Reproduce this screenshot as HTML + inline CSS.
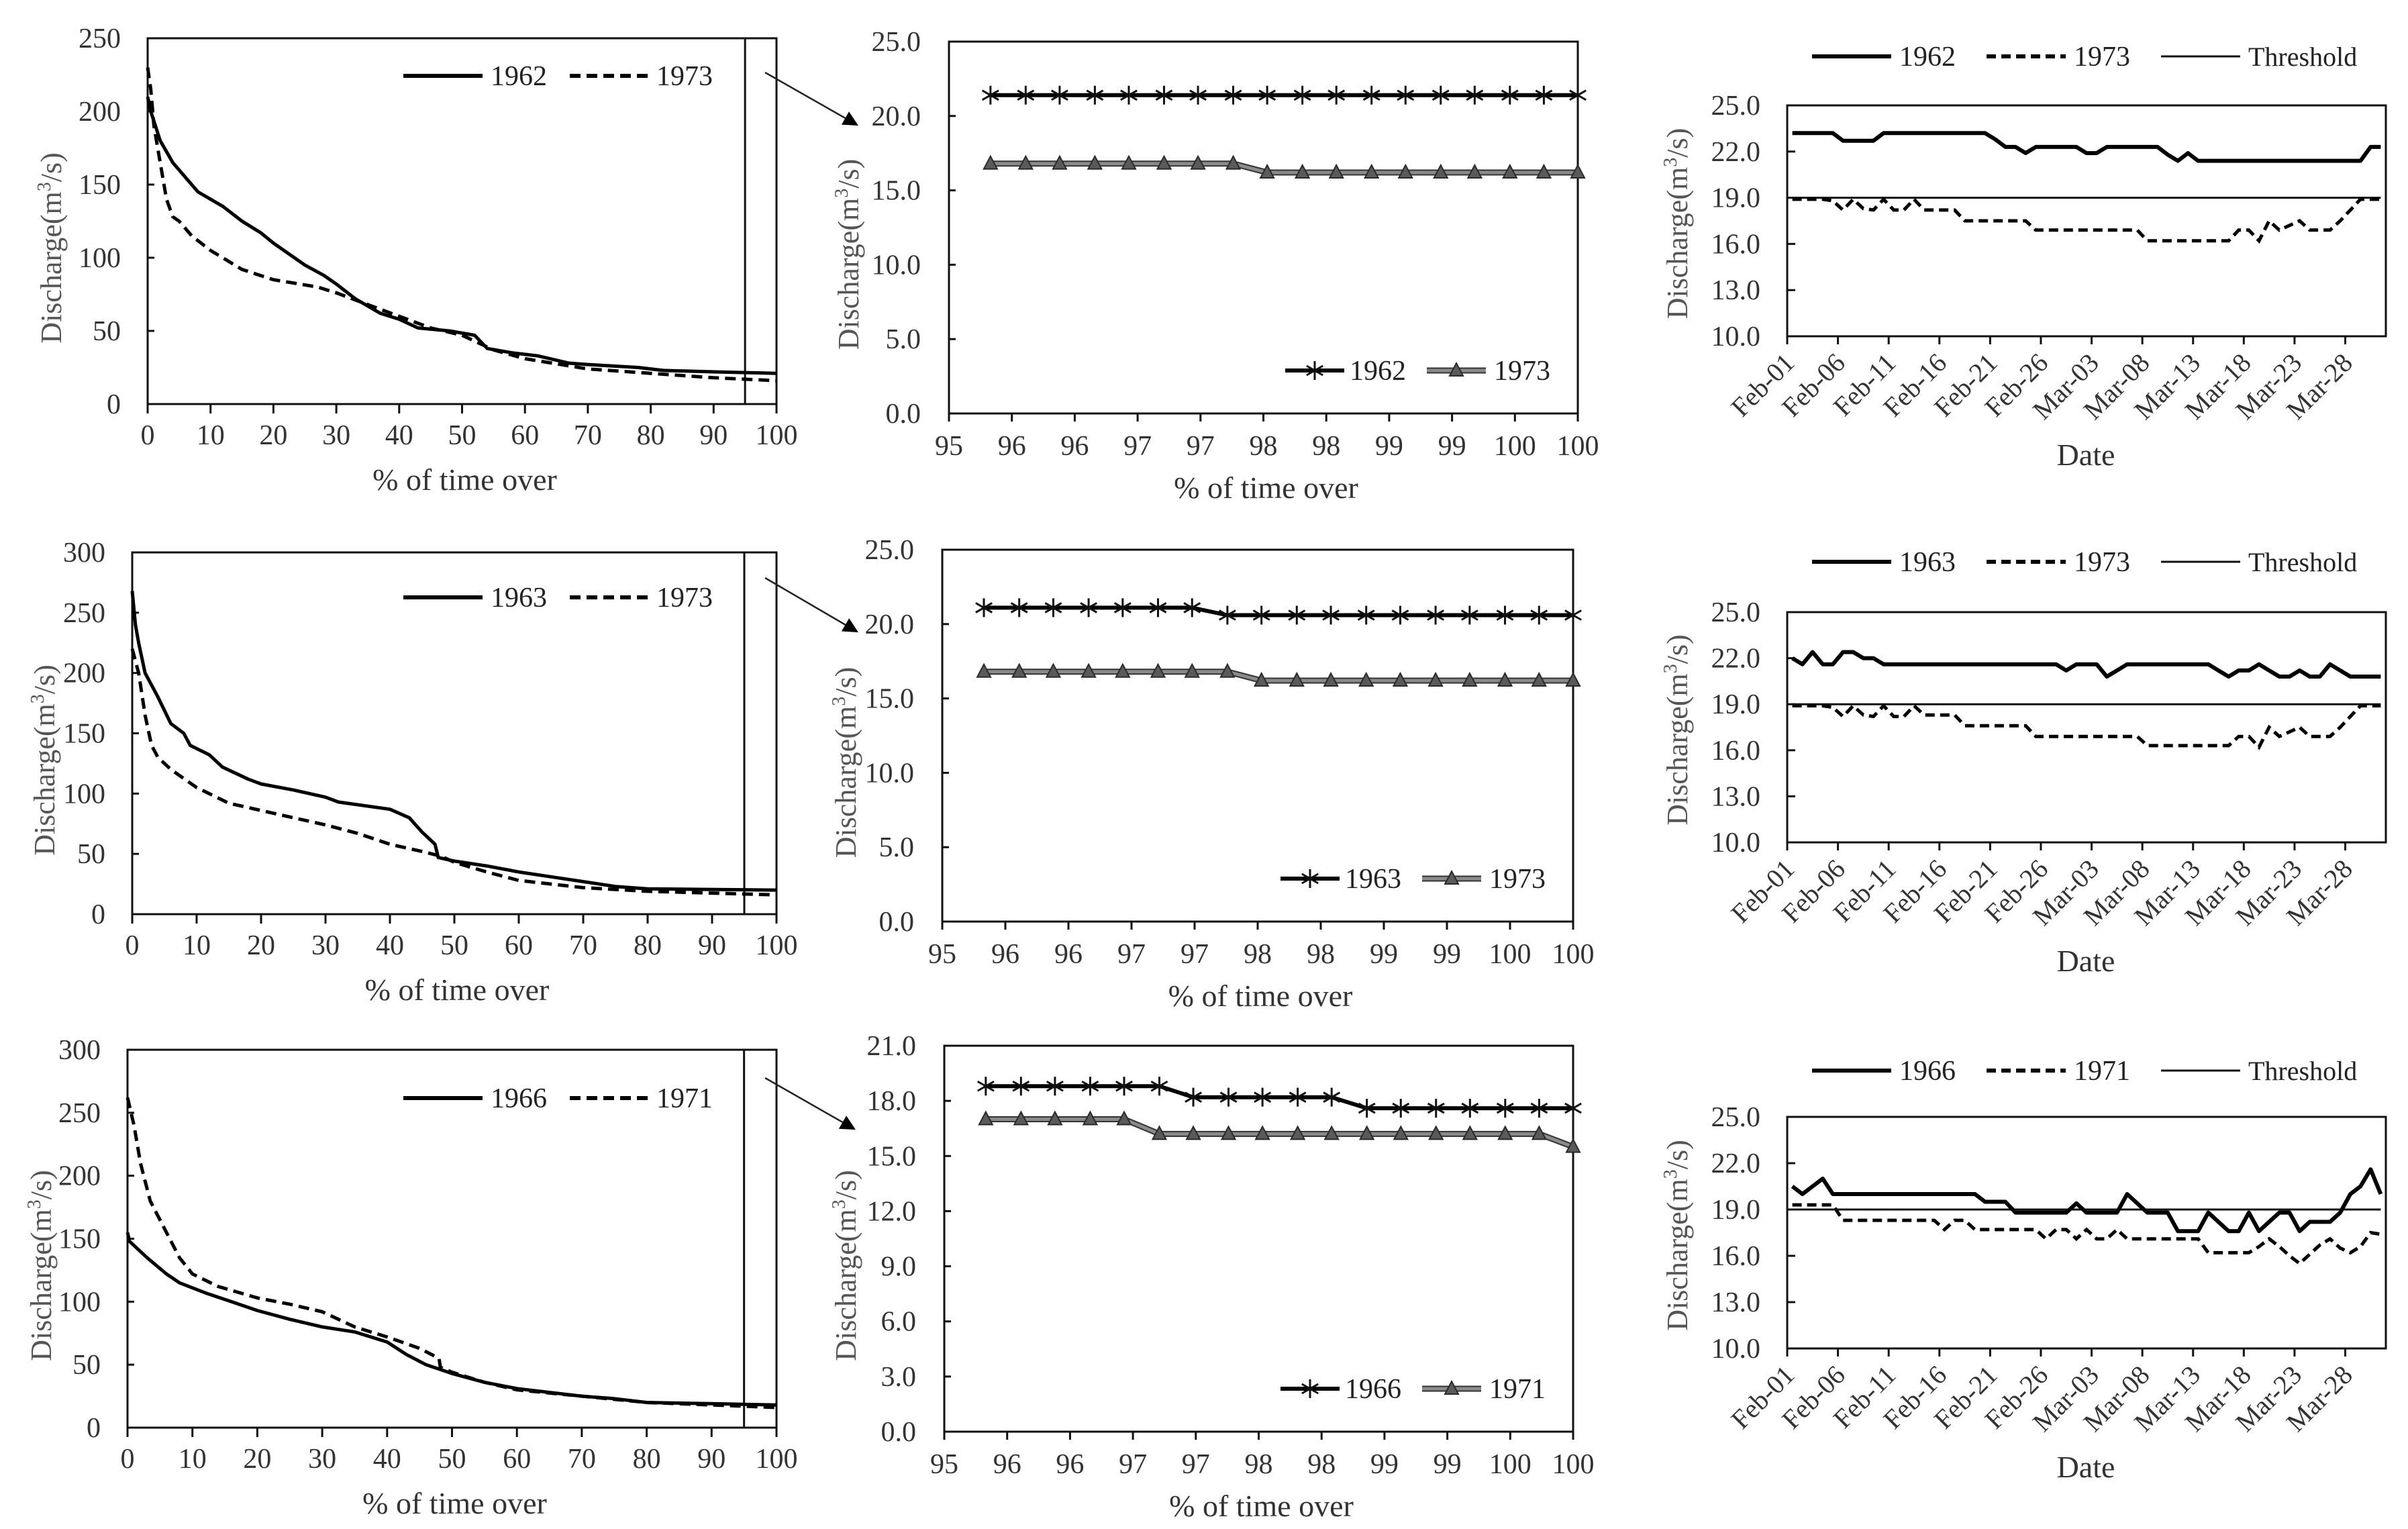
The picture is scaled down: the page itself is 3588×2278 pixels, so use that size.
<!DOCTYPE html>
<html><head><meta charset="utf-8">
<style>
html,body{margin:0;padding:0;background:#fff;}
svg{display:block;font-family:"Liberation Serif","Times New Roman",serif;}
</style></head>
<body>
<svg id="fig" xmlns="http://www.w3.org/2000/svg" width="3588" height="2278" viewBox="0 0 3588 2278"></svg>
<script>
// ---------- Flow duration curve data (percent of time, discharge) ----------
const fdc1962X=[0,0.5,2,4,6,8,10,12,15,18,20,25,28,30,33,37,40,43,48,52,54,58,62,67,70,78,82,90,100];
const fdc1962Y=[210,200,180,165,155,145,140,135,125,117,110,95,88,82,72,62,58,52,50,47,38,35,33,28,27,25,23,22,21];
const fdc1973aX=[0,0.5,1,2,3,4,5,7,10,15,20,27,30,35,40,45,50,55,60,70,80,90,100];
const fdc1973aY=[230,215,190,165,140,128,125,115,105,92,85,80,76,68,60,52,47,37,31,24,21,18,16];
const fdc1963X=[0,0.5,1,2,4,6,8,9,12,14,18,20,25,30,32,40,43,45,47,47.5,50,55,60,65,70,75,80,100];
const fdc1963Y=[268,240,225,200,180,158,150,140,132,122,112,108,103,97,93,87,80,68,58,47,44,40,35,31,27,23,21,20];
const fdc1973bX=[0,1,2,3,4,6,10,15,20,25,30,35,40,45,48,50,55,60,70,80,100];
const fdc1973bY=[220,200,165,140,130,120,105,92,86,80,74,67,58,52,48,43,35,28,22,19,16];
const fdc1966X=[0,0.3,3,6,8,12,16,20,25,30,35,40,43,46,50,55,60,65,70,75,80,90,100];
const fdc1966Y=[155,148,135,122,115,107,100,93,86,80,76,68,58,50,43,36,31,28,25,23,20,19,18];
const fdc1971X=[0,1,2,3.5,6,8,10,14,20,25,30,35,40,45,48,48.2,50,55,60,70,80,90,100];
const fdc1971Y=[262,240,210,180,155,135,122,112,103,98,92,80,72,63,55,48,44,36,30,25,20,18,16];
const fdcXTicks=[0,10,20,30,40,50,60,70,80,90,100];

// ---------- Low-flow zoom data (95-100%) ----------
const zoomX=[95.33,95.61,95.88,96.16,96.43,96.71,96.98,97.26,97.53,97.81,98.08,98.36,98.63,98.91,99.18,99.46,99.73,100.0];
const zoom1962=[21.4,21.4,21.4,21.4,21.4,21.4,21.4,21.4,21.4,21.4,21.4,21.4,21.4,21.4,21.4,21.4,21.4,21.4];
const zoom1973a=[16.8,16.8,16.8,16.8,16.8,16.8,16.8,16.8,16.2,16.2,16.2,16.2,16.2,16.2,16.2,16.2,16.2,16.2];
const zoom1963=[21.1,21.1,21.1,21.1,21.1,21.1,21.1,20.6,20.6,20.6,20.6,20.6,20.6,20.6,20.6,20.6,20.6,20.6];
const zoom1973b=[16.8,16.8,16.8,16.8,16.8,16.8,16.8,16.8,16.2,16.2,16.2,16.2,16.2,16.2,16.2,16.2,16.2,16.2];
const zoom1966=[18.8,18.8,18.8,18.8,18.8,18.8,18.2,18.2,18.2,18.2,18.2,17.6,17.6,17.6,17.6,17.6,17.6,17.6];
const zoom1971=[17.0,17.0,17.0,17.0,17.0,16.2,16.2,16.2,16.2,16.2,16.2,16.2,16.2,16.2,16.2,16.2,16.2,15.5];
const zoomXTickLabels=["95","96","96","97","97","98","98","99","99","100","100"];

// ---------- Daily series Feb-01..Mar-31 (59 days) ----------
const dateLabels=["Feb-01","Feb-06","Feb-11","Feb-16","Feb-21","Feb-26","Mar-03","Mar-08","Mar-13","Mar-18","Mar-23","Mar-28"];
const threshold=19.0;
const day1962=[23.2,23.2,23.2,23.2,23.2,22.7,22.7,22.7,22.7,23.2,23.2,23.2,23.2,23.2,23.2,23.2,23.2,23.2,23.2,23.2,22.8,22.3,22.3,21.9,22.3,22.3,22.3,22.3,22.3,21.9,21.9,22.3,22.3,22.3,22.3,22.3,22.3,21.8,21.4,21.9,21.4,21.4,21.4,21.4,21.4,21.4,21.4,21.4,21.4,21.4,21.4,21.4,21.4,21.4,21.4,21.4,21.4,22.3,22.3];
const day1973a=[18.9,18.9,18.9,18.9,18.8,18.2,18.9,18.3,18.2,18.9,18.2,18.2,18.9,18.2,18.2,18.2,18.2,17.5,17.5,17.5,17.5,17.5,17.5,17.5,16.9,16.9,16.9,16.9,16.9,16.9,16.9,16.9,16.9,16.9,16.9,16.2,16.2,16.2,16.2,16.2,16.2,16.2,16.2,16.2,16.9,16.9,16.2,17.5,16.9,17.2,17.5,16.9,16.9,16.9,17.5,18.2,18.9,18.9,18.9];
const day1963=[22.0,21.6,22.4,21.6,21.6,22.4,22.4,22.0,22.0,21.6,21.6,21.6,21.6,21.6,21.6,21.6,21.6,21.6,21.6,21.6,21.6,21.6,21.6,21.6,21.6,21.6,21.6,21.2,21.6,21.6,21.6,20.8,21.2,21.6,21.6,21.6,21.6,21.6,21.6,21.6,21.6,21.6,21.2,20.8,21.2,21.2,21.6,21.2,20.8,20.8,21.2,20.8,20.8,21.6,21.2,20.8,20.8,20.8,20.8];
const day1973b=[18.9,18.9,18.9,18.9,18.8,18.2,18.9,18.3,18.2,18.9,18.2,18.2,18.9,18.3,18.3,18.3,18.3,17.6,17.6,17.6,17.6,17.6,17.6,17.6,16.9,16.9,16.9,16.9,16.9,16.9,16.9,16.9,16.9,16.9,16.9,16.3,16.3,16.3,16.3,16.3,16.3,16.3,16.3,16.3,16.9,16.9,16.2,17.5,16.9,17.2,17.5,16.9,16.9,16.9,17.5,18.2,18.9,18.9,18.9];
const day1966=[20.5,20.0,20.5,21.0,20.0,20.0,20.0,20.0,20.0,20.0,20.0,20.0,20.0,20.0,20.0,20.0,20.0,20.0,20.0,19.5,19.5,19.5,18.8,18.8,18.8,18.8,18.8,18.8,19.4,18.8,18.8,18.8,18.8,20.0,19.4,18.8,18.8,18.8,17.6,17.6,17.6,18.8,18.2,17.6,17.6,18.8,17.6,18.2,18.8,18.8,17.6,18.2,18.2,18.2,18.8,20.0,20.5,21.6,20.0];
const day1971=[19.3,19.3,19.3,19.3,19.3,18.3,18.3,18.3,18.3,18.3,18.3,18.3,18.3,18.3,18.3,17.7,18.3,18.3,17.7,17.7,17.7,17.7,17.7,17.7,17.7,17.1,17.7,17.7,17.1,17.7,17.1,17.1,17.7,17.1,17.1,17.1,17.1,17.1,17.1,17.1,17.1,16.2,16.2,16.2,16.2,16.2,16.6,17.1,16.6,16.0,15.5,16.1,16.7,17.1,16.5,16.2,16.6,17.5,17.4];

// ---------------------------------------------------------------
const NS="http://www.w3.org/2000/svg";
const svg=document.getElementById('fig');
function mk(tag,attrs,parent){const e=document.createElementNS(NS,tag);for(const k in attrs)e.setAttribute(k,attrs[k]);(parent||svg).appendChild(e);return e;}
function txt(s,attrs,parent){const e=mk('text',attrs,parent);e.textContent=s;return e;}
function linScale(d0,d1,r0,r1){return v=>r0+(v-d0)*(r1-r0)/(d1-d0);}
function pathFrom(xs,ys,sx,sy){let d='';for(let i=0;i<xs.length;i++){d+=(i?'L':'M')+sx(xs[i]).toFixed(1)+','+sy(ys[i]).toFixed(1);}return d;}
function yTitle(g,x,y){
  const t=mk('text',{x:x,y:y,'font-size':44,fill:'#555','text-anchor':'middle',transform:'rotate(-90 '+x+' '+y+')'},g);
  
  
  t.appendChild(document.createTextNode('Discharge(m'));
  const sup=mk('tspan',{'font-size':28,dy:-16},t);sup.textContent='3';
  const rest=mk('tspan',{dy:16},t);rest.textContent='/s)';
}
function frame(g,L,R,T,B){
  const r=mk('rect',{x:L,y:T,width:R-L,height:B-T,fill:'none',stroke:'#111','stroke-width':3},g);
  
  
}

// ---------- Flow duration panels ----------
const fdcPanels=[
 {L:220,R:1157,T:57,B:602,ymax:250,s1:[fdc1962X,fdc1962Y,'1962'],s2:[fdc1973aX,fdc1973aY,'1973'],ytx:77,legY:113},
 {L:197,R:1157,T:823,B:1362,ymax:300,s1:[fdc1963X,fdc1963Y,'1963'],s2:[fdc1973bX,fdc1973bY,'1973'],ytx:67,legY:890},
 {L:190,R:1157,T:1564,B:2127,ymax:300,s1:[fdc1966X,fdc1966Y,'1966'],s2:[fdc1971X,fdc1971Y,'1971'],ytx:62,legY:1636}
];
fdcPanels.forEach((p,i)=>{
  const g=mk('g',{});
  
  
  const sx=linScale(0,100,p.L,p.R), sy=linScale(0,p.ymax,p.B,p.T);
  frame(g,p.L,p.R,p.T,p.B);
  for(let v=0;v<=p.ymax;v+=50){
    mk('line',{x1:p.L,x2:p.L+10,y1:sy(v),y2:sy(v),stroke:'#111','stroke-width':3},g);
    const t=txt(String(v),{x:p.L-40,y:sy(v)+14,'font-size':42,fill:'#333','text-anchor':'end'},g);
    
    
  }
  fdcXTicks.forEach(v=>{
    mk('line',{x1:sx(v),x2:sx(v),y1:p.B,y2:p.B+14,stroke:'#111','stroke-width':3},g);
    const t=txt(String(v),{x:sx(v),y:p.B+60,'font-size':42,fill:'#333','text-anchor':'middle'},g);
    
    
  });
  const vl=mk('line',{x1:sx(95),x2:sx(95),y1:p.T,y2:p.B,stroke:'#111','stroke-width':3},g);
  
  
  const l1=mk('path',{d:pathFrom(p.s1[0],p.s1[1],sx,sy),fill:'none',stroke:'#000','stroke-width':5,'stroke-linejoin':'round'},g);
  
  
  const l2=mk('path',{d:pathFrom(p.s2[0],p.s2[1],sx,sy),fill:'none',stroke:'#000','stroke-width':5,'stroke-dasharray':'16 9'},g);
  
  
  // legend
  const lg=mk('g',{},g);
  
  
  mk('line',{x1:601,x2:719,y1:p.legY,y2:p.legY,stroke:'#000','stroke-width':6},lg);
  txt(p.s1[2],{x:731,y:p.legY+14,'font-size':42,fill:'#222'},lg);
  mk('line',{x1:849,x2:972,y1:p.legY,y2:p.legY,stroke:'#000','stroke-width':6,'stroke-dasharray':'16 9'},lg);
  txt(p.s2[2],{x:978,y:p.legY+14,'font-size':42,fill:'#222'},lg);
  const xt=txt('% of time over',{x:(p.L+p.R)/2+4,y:p.B+128,'font-size':46,fill:'#333','text-anchor':'middle'},g);
  
  
  yTitle(g,p.ytx+14,(p.T+p.B)/2+40);
});

// ---------- Arrows ----------
mk('defs',{}).innerHTML='<marker id="ah" viewBox="0 0 10 10" refX="9" refY="5" markerWidth="9" markerHeight="9" orient="auto"><path d="M0,0 L10,5 L0,10 z" fill="#000"/></marker>';
[[1140,108,1277,186],[1140,861,1277,941],[1140,1606,1273,1682]].forEach(a=>{
  const l=mk('line',{x1:a[0],y1:a[1],x2:a[2],y2:a[3],stroke:'#222','stroke-width':2.5,'marker-end':'url(#ah)'});
  
  
});

// ---------- Low-flow zoom panels ----------
function star(g,x,y){
  const r=14;
  mk('path',{d:`M${x},${y-r}L${x},${y+r}M${x-r*0.87},${y-r*0.5}L${x+r*0.87},${y+r*0.5}M${x-r*0.87},${y+r*0.5}L${x+r*0.87},${y-r*0.5}`,stroke:'#111','stroke-width':3,fill:'none'},g);
}
function tri(g,x,y){
  mk('path',{d:`M${x},${y-11}L${x+10},${y+8}L${x-10},${y+8}Z`,fill:'#5a5a5a',stroke:'#2a2a2a','stroke-width':2},g);
}
const zoomPanels=[
 {L:1414,R:2351,T:62,B:616,ymax:25,step:5,s1:[zoom1962,'1962'],s2:[zoom1973a,'1973'],ytx:1265},
 {L:1404,R:2344,T:819,B:1373,ymax:25,step:5,s1:[zoom1963,'1963'],s2:[zoom1973b,'1973'],ytx:1261},
 {L:1407,R:2344,T:1558,B:2133,ymax:21,step:3,s1:[zoom1966,'1966'],s2:[zoom1971,'1971'],ytx:1261}
];
zoomPanels.forEach((p,i)=>{
  const g=mk('g',{});
  
  
  const sx=linScale(95,100,p.L,p.R), sy=linScale(0,p.ymax,p.B,p.T);
  frame(g,p.L,p.R,p.T,p.B);
  for(let v=0;v<=p.ymax+1e-9;v+=p.step){
    mk('line',{x1:p.L,x2:p.L+10,y1:sy(v),y2:sy(v),stroke:'#111','stroke-width':3},g);
    const t=txt(v.toFixed(1),{x:p.L-42,y:sy(v)+14,'font-size':42,fill:'#333','text-anchor':'end'},g);
    
    
  }
  zoomXTickLabels.forEach((lab,k)=>{
    const x=p.L+k*(p.R-p.L)/(zoomXTickLabels.length-1);
    mk('line',{x1:x,x2:x,y1:p.B,y2:p.B+12,stroke:'#111','stroke-width':3},g);
    const t=txt(lab,{x:x,y:p.B+62,'font-size':42,fill:'#333','text-anchor':'middle'},g);
    
    
  });
  const l2=mk('path',{d:pathFrom(zoomX,p.s2[0],sx,sy),fill:'none',stroke:'#333','stroke-width':9},g);
  
  
  const l2b=mk('path',{d:pathFrom(zoomX,p.s2[0],sx,sy),fill:'none',stroke:'#8a8a8a','stroke-width':5},g);
  
  
  zoomX.forEach((x,k)=>tri(g,sx(x),sy(p.s2[0][k])));
  const l1=mk('path',{d:pathFrom(zoomX,p.s1[0],sx,sy),fill:'none',stroke:'#000','stroke-width':6},g);
  
  
  zoomX.forEach((x,k)=>star(g,sx(x),sy(p.s1[0][k])));
  // legend
  const lg=mk('g',{},g);
  
  
  const ly=p.B-64;
  mk('line',{x1:p.R-436,x2:p.R-348,y1:ly,y2:ly,stroke:'#000','stroke-width':6},lg);
  star(lg,p.R-392,ly);
  txt(p.s1[1],{x:p.R-340,y:ly+14,'font-size':42,fill:'#222'},lg);
  mk('line',{x1:p.R-225,x2:p.R-137,y1:ly,y2:ly,stroke:'#333','stroke-width':9},lg);
  mk('line',{x1:p.R-225,x2:p.R-137,y1:ly,y2:ly,stroke:'#8a8a8a','stroke-width':5},lg);
  tri(lg,p.R-181,ly);
  txt(p.s2[1],{x:p.R-125,y:ly+14,'font-size':42,fill:'#222'},lg);
  const xt=txt('% of time over',{x:(p.L+p.R)/2+4,y:p.B+126,'font-size':46,fill:'#333','text-anchor':'middle'},g);
  
  
  yTitle(g,p.ytx+14,(p.T+p.B)/2+40);
});

// ---------- Daily panels ----------
const dayPanels=[
 {T:157,B:501,legY:84,s1:[day1962,'1962'],s2:[day1973a,'1973']},
 {T:912,B:1255,legY:837,s1:[day1963,'1963'],s2:[day1973b,'1973']},
 {T:1664,B:2009,legY:1595,s1:[day1966,'1966'],s2:[day1971,'1971']}
];
dayPanels.forEach((p,i)=>{
  const L=2663,R=3555,n=day1962.length,w=(R-L)/n;
  const g=mk('g',{});
  
  
  const sy=linScale(10,25,p.B,p.T);
  const sx=k=>L+(k+0.5)*w;
  const idx=p.s1[0].map((_,k)=>k);
  frame(g,L,R,p.T,p.B);
  for(let v=10;v<=25;v+=3){
    mk('line',{x1:L,x2:L+12,y1:sy(v),y2:sy(v),stroke:'#111','stroke-width':3},g);
    const t=txt(v.toFixed(1),{x:L-40,y:sy(v)+14,'font-size':42,fill:'#333','text-anchor':'end'},g);
    
    
  }
  dateLabels.forEach((lab,k)=>{
    const x=L+k*5*w;
    mk('line',{x1:x,x2:x,y1:p.B,y2:p.B+12,stroke:'#111','stroke-width':3},g);
    const tx=x+13, ty=p.B+42;
    const t=txt(lab,{x:tx,y:ty,'font-size':40,fill:'#333','text-anchor':'end',transform:`rotate(-45 ${tx} ${ty})`},g);
    
    
  });
  const th=mk('line',{x1:sx(0),x2:sx(n-1),y1:sy(threshold),y2:sy(threshold),stroke:'#111','stroke-width':3},g);
  
  
  const l1=mk('path',{d:pathFrom(idx,p.s1[0],sx,sy),fill:'none',stroke:'#000','stroke-width':6,'stroke-linejoin':'round'},g);
  
  
  const l2=mk('path',{d:pathFrom(idx,p.s2[0],sx,sy),fill:'none',stroke:'#000','stroke-width':5,'stroke-dasharray':'14 8'},g);
  
  
  const lg=mk('g',{},g);
  
  
  const ly=p.legY;
  mk('line',{x1:2700,x2:2818,y1:ly,y2:ly,stroke:'#000','stroke-width':6},lg);
  txt(p.s1[1],{x:2830,y:ly+14,'font-size':42,fill:'#222'},lg);
  mk('line',{x1:2960,x2:3078,y1:ly,y2:ly,stroke:'#000','stroke-width':6,'stroke-dasharray':'14 8'},lg);
  txt(p.s2[1],{x:3090,y:ly+14,'font-size':42,fill:'#222'},lg);
  mk('line',{x1:3220,x2:3338,y1:ly,y2:ly,stroke:'#111','stroke-width':3},lg);
  txt('Threshold',{x:3350,y:ly+14,'font-size':40,fill:'#222'},lg);
  const xt=txt('Date',{x:3108,y:p.B+192,'font-size':46,fill:'#333','text-anchor':'middle'},g);
  
  
  yTitle(g,2514,(p.T+p.B)/2+4);
});
</script>
</body></html>
